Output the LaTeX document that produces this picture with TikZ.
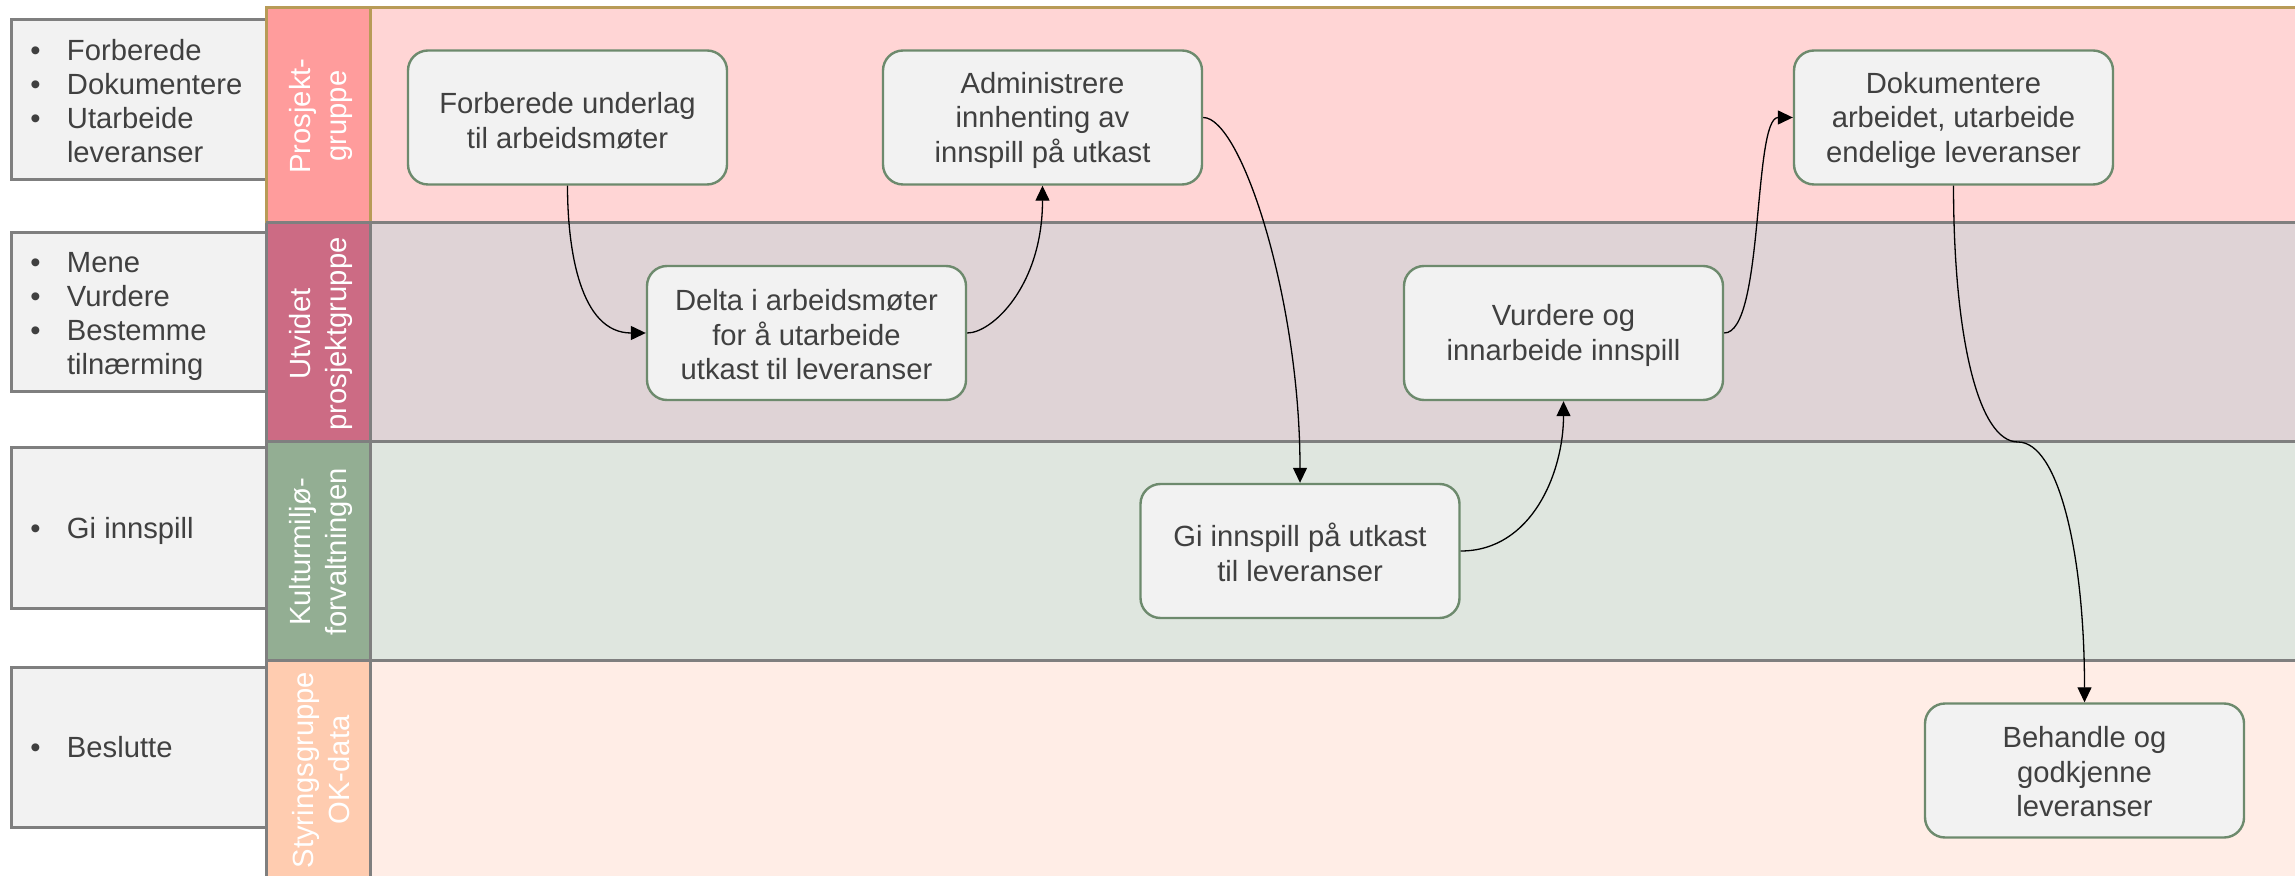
\documentclass[tikz,border=0pt]{standalone}
\usepackage{fontspec}
\setmainfont{Liberation Sans}
\usetikzlibrary{arrows.meta}
\definecolor{txt}{HTML}{404040}
\definecolor{nodefill}{HTML}{F2F2F2}
\definecolor{nodeline}{HTML}{6D8A6D}
\definecolor{lanegray}{HTML}{7F7F7F}
\definecolor{lanetan}{HTML}{B89B57}
\definecolor{hA}{HTML}{FF9C9C}\definecolor{cA}{HTML}{FFD5D5}
\definecolor{hB}{HTML}{CC6B84}\definecolor{cB}{HTML}{DFD3D6}
\definecolor{hC}{HTML}{93AE93}\definecolor{cC}{HTML}{DFE6DF}
\definecolor{hD}{HTML}{FFCCB0}\definecolor{cD}{HTML}{FFEDE6}
\begin{document}
\begin{tikzpicture}[x=0.5pt,y=0.5pt,
  proc/.style={draw=nodeline, fill=nodefill, line width=1.2pt, rounded corners=10pt,
    minimum width=159.5pt, minimum height=67pt, inner sep=0pt},
  proctext/.style={align=center, text=txt, font=\fontsize{14.6}{17.4}\selectfont, inner sep=0pt},
  rolebox/.style={draw=lanegray, fill=nodefill, line width=1.5pt, minimum width=127.5pt,
    minimum height=80pt, inner sep=0pt},
  roletext/.style={anchor=west, text=txt, font=\fontsize{14.6}{17}\selectfont, inner sep=0pt},
  lanetitle/.style={rotate=90, text=white, align=center,
    font=\fontsize{14.6}{17.75}\selectfont, inner sep=0pt},
  graylane/.style={draw=lanegray, line width=1.5pt},
  tanlane/.style={draw=lanetan, line width=1.5pt},
  flow/.style={-{Triangle[length=7.5pt,width=7pt]}, line width=0.65pt, black},
]
\useasboundingbox (0,0) rectangle (2295,-876);
\fill[white] (0,0) rectangle (2295,-876);

% role boxes on the left
\node[rolebox] (r1) at (138.5,-100) {};
\node[rolebox, minimum height=79.5pt] (r2) at (138.5,-312.5) {};
\node[rolebox] (r3) at (138.5,-528) {};
\node[rolebox] (r4) at (138.5,-747) {};
\node[roletext] (r1t) at ([xshift=10.25pt,yshift=-2.2pt]r1.west)
  {\begin{tabular}{@{}p{18.3pt}@{}l@{}}\textbullet & Forberede\\ \textbullet & Dokumentere\\ \textbullet & Utarbeide\\ & leveranser\end{tabular}};
\node[roletext] (r2t) at ([xshift=10.25pt,yshift=-2.2pt]r2.west)
  {\begin{tabular}{@{}p{18.3pt}@{}l@{}}\textbullet & Mene\\ \textbullet & Vurdere\\ \textbullet & Bestemme\\ & tilnærming\end{tabular}};
\node[roletext] (r3t) at ([xshift=10.25pt,yshift=-2pt]r3.west)
  {\begin{tabular}{@{}p{18.3pt}@{}l@{}}\textbullet & Gi innspill\end{tabular}};
\node[roletext] (r4t) at ([xshift=10.25pt,yshift=-2pt]r4.west)
  {\begin{tabular}{@{}p{18.3pt}@{}l@{}}\textbullet & Beslutte\end{tabular}};

% lane fills
\fill[hA] (266,-8) rectangle (370,-223);
\fill[cA] (370,-8) rectangle (2300,-223);
\fill[hB] (266,-223) rectangle (370,-442);
\fill[cB] (370,-223) rectangle (2300,-442);
\fill[hC] (266,-442) rectangle (370,-660);
\fill[cC] (370,-442) rectangle (2300,-660);
\fill[hD] (266,-660) rectangle (370,-890);
\fill[cD] (370,-660) rectangle (2300,-890);

% lane borders
\draw[tanlane] (2300,-8) -- (266,-8) -- (266,-223);
\draw[tanlane] (370,-8) -- (370,-223);
\draw[graylane] (266,-223) -- (2300,-223);
\draw[graylane] (266,-442) -- (2300,-442);
\draw[graylane] (266,-660) -- (2300,-660);
\draw[graylane] (266,-223) -- (266,-890);
\draw[graylane] (370,-223) -- (370,-890);

% lane titles
\node[lanetitle] (t1) at (321,-116) {Prosjekt-\\gruppe};
\node[lanetitle] (t2) at (321,-334) {Utvidet\\prosjektgruppe};
\node[lanetitle] (t3) at (321,-552) {Kulturmiljø-\\forvaltningen};
\node[lanetitle] (t4) at (321,-770) {Styringsgruppe\\OK-data};

% process steps
\node[proc] (F) at (567.5,-117.5) {};
\node[proc] (A) at (1042.5,-117.5) {};
\node[proc] (D) at (1953.5,-117.5) {};
\node[proc] (Del) at (806.5,-333) {};
\node[proc] (V) at (1563.5,-333) {};
\node[proc] (G) at (1300,-551) {};
\node[proc] (B) at (2084.5,-770.5) {};
\node[proctext] (Ft) at ([yshift=-1.4pt]F.center) {Forberede underlag\\til arbeidsmøter};
\node[proctext] (At) at ([yshift=-1.4pt]A.center) {Administrere\\innhenting av\\innspill på utkast};
\node[proctext] (Dt) at ([yshift=-1.4pt]D.center) {Dokumentere\\arbeidet, utarbeide\\endelige leveranser};
\node[proctext] (Delt) at ([yshift=-0.8pt]Del.center) {Delta i arbeidsmøter\\for å utarbeide\\utkast til leveranser};
\node[proctext] (Vt) at ([yshift=-1.4pt]V.center) {Vurdere og\\innarbeide innspill};
\node[proctext] (Gt) at ([yshift=-0.8pt]G.center) {Gi innspill på utkast\\til leveranser};
\node[proctext] (Bt) at ([yshift=-0.6pt]B.center) {Behandle og\\godkjenne\\leveranser};

% connectors
\coordinate (fmid) at (2018,-442);
\draw[flow] (F.south) to[out=-90,in=180] (Del.west);
\draw[flow] (Del.east) to[out=0,in=-90,out distance=12.5pt,in distance=50pt] (A.south);
\draw[flow] (A.east) to[out=0,in=90,out distance=19pt,in distance=92pt] (G.north);
\draw[flow] (G.east) to[out=0,in=-90] (V.south);
\draw[flow] (V.east) to[out=0,in=180,out distance=20pt,in distance=20pt] (D.west);
\draw[flow] (D.south) to[out=-90,in=180,out distance=75pt,in distance=20pt] (fmid)
  to[out=0,in=90,out distance=20pt,in distance=75pt] (B.north);
\end{tikzpicture}
\end{document}
